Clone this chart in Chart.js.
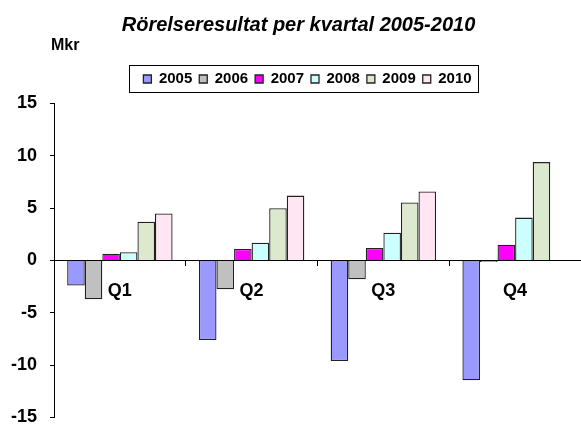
<!DOCTYPE html>
<html lang="sv">
<head>
    <meta charset="UTF-8">
    <title>Rörelseresultat per kvartal</title>
    <style>
        html, body { margin: 0; padding: 0; background: #ffffff; }
        .chart-container { width: 581px; height: 426px; }
    </style>
</head>
<body>
    <div class="chart-container"><canvas id="resultChart" width="581" height="426"></canvas></div>

    <script src="https://cdn.jsdelivr.net/npm/chart.js"></script>
    <script>
        // Data (Mkr)
        const quarters = ['Q1', 'Q2', 'Q3', 'Q4'];
        const years = ['2005', '2006', '2007', '2008', '2009', '2010'];
        const values2005 = [-2.4, -7.6, -9.6, -11.45];
        const values2006 = [-3.7, -2.75, -1.8, -0.15];
        const values2007 = [0.65, 1.1, 1.2, 1.5];
        const values2008 = [0.8, 1.7, 2.65, 4.1];
        const values2009 = [3.7, 5.0, 5.55, 9.4];
        const values2010 = [4.5, 6.2, 6.6, null];
        const yTicks = [-15, -10, -5, 0, 5, 10, 15];

        const seriesValues = [values2005, values2006, values2007, values2008, values2009, values2010];
        const colors = ['#9999ff', '#c0c0c0', '#ff00ff', '#ccffff', '#dde9cf', '#ffe6f2'];
        const font = "'Liberation Sans', Arial, sans-serif";

        // nudge title/legend right, legend frame + "Mkr" label
        const extras = {
            id: 'extras',
            afterLayout(chart) {
                const tb = chart.titleBlock;
                tb.left += 8;
                tb.right += 8;
                const lg = chart.legend, dx = 17;
                lg.left += dx;
                lg.right += dx;
                lg.legendHitBoxes.forEach(h => { h.left += dx; });
            },
            afterDraw(chart) {
                const ctx = chart.ctx;
                const boxes = chart.legend.legendHitBoxes;
                if (boxes && boxes.length) {
                    const first = boxes[0], last = boxes[boxes.length - 1];
                    const l = first.left - 14, r = last.left + last.width + 7;
                    const t = first.top - 6.5, b = first.top + first.height + 5.5;
                    ctx.save();
                    ctx.strokeStyle = '#000';
                    ctx.lineWidth = 1;
                    ctx.strokeRect(Math.round(l) + 0.5, Math.round(t) + 0.5, Math.round(r - l), Math.round(b - t));
                    ctx.restore();
                }
                ctx.save();
                ctx.fillStyle = '#000';
                ctx.font = 'bold 16px ' + font;
                ctx.textBaseline = 'middle';
                ctx.fillText('Mkr', 51, 46);
                ctx.restore();
            }
        };

        new Chart(document.getElementById('resultChart').getContext('2d'), {
            type: 'bar',
            data: {
                labels: quarters,
                datasets: years.map((y, i) => ({
                    label: y,
                    data: seriesValues[i],
                    backgroundColor: colors[i],
                    borderColor: '#222',
                    borderWidth: 1.3,
                    categoryPercentage: 0.8,
                    barPercentage: 1.0
                }))
            },
            options: {
                responsive: false,
                animation: false,
                maintainAspectRatio: false,
                layout: { padding: 0 },
                plugins: {
                    title: {
                        display: true,
                        text: 'Rörelseresultat per kvartal 2005-2010',
                        color: '#000',
                        font: { family: font, size: 20, weight: 'bold', style: 'italic' },
                        padding: { top: 13, bottom: 27.5 }
                    },
                    // empty spacer between legend and plot
                    subtitle: {
                        display: true,
                        text: '',
                        weight: 500,
                        font: { size: 5 },
                        padding: { top: 1, bottom: 0 }
                    },
                    legend: {
                        display: true,
                        labels: {
                            color: '#000',
                            font: { family: font, size: 15, weight: 'bold' },
                            boxWidth: 8,
                            boxHeight: 8,
                            padding: 7
                        }
                    },
                    tooltip: { enabled: false }
                },
                scales: {
                    x: {
                        position: { y: 0 },
                        afterFit(scale) { scale.height = 0; },
                        grid: { display: true, drawOnChartArea: false, drawTicks: true, tickLength: 5, offset: true, color: '#000' },
                        border: { display: true, color: '#000', width: 1 },
                        ticks: { color: '#000', padding: 15, font: { family: font, size: 18, weight: 'bold' } }
                    },
                    y: {
                        min: -15,
                        max: 15,
                        afterFit(scale) {
                            scale.width = 54;
                            scale.paddingTop = 8;
                            scale.paddingBottom = 8.5;
                        },
                        afterBuildTicks(scale) { scale.ticks = yTicks.map(v => ({ value: v })); },
                        grid: { display: true, drawOnChartArea: false, drawTicks: true, tickLength: 4, color: '#000' },
                        border: { display: true, color: '#000', width: 1 },
                        ticks: { color: '#000', padding: 13, font: { family: font, size: 18, weight: 'bold', lineHeight: 1 } }
                    }
                }
            },
            plugins: [extras]
        });
    </script>
</body>
</html>
